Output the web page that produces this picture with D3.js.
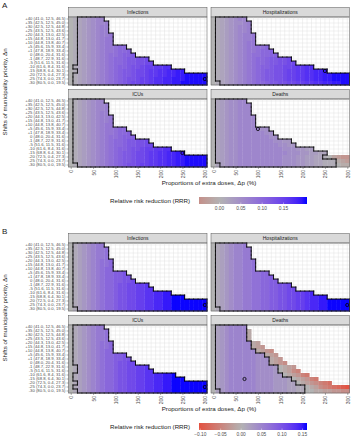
<!DOCTYPE html>
<html>
<head>
<meta charset="utf-8">
<script src="https://cdn.jsdelivr.net/npm/d3@7"></script>
<style>
  body { margin: 0; background: #fff; }
  text { font-family: 'Liberation Sans', Arial, sans-serif; }
</style>
</head>
<body>
<div id="chart"></div>
<script>
// rows: shift of municipality priority (top to bottom)
const shiftKeys = ['+40', '+35', '+30', '+25', '+20', '+15', '+10', '+5', '+1', '0', '-1', '-5', '-10', '-15', '-20', '-25', '-30']
const shiftLabels = [
  '+40 (41.0, 12.5, 46.5)', '+35 (42.5, 12.5, 45.0)', '+30 (42.5, 12.5, 44.8)', '+25 (43.5, 12.5, 43.6)',
  '+20 (44.3, 13.0, 42.5)', '+15 (44.8, 13.0, 41.7)', '+10 (44.8, 13.8, 40.7)', '+5 (45.6, 15.9, 33.4)',
  '+1 (47.8, 18.9, 33.4)', '0 (48.0, 20.4, 31.6)', '-1 (48.7, 22.9, 31.6)', '-5 (51.6, 11.5, 31.6)',
  '-10 (61.6, 8.4, 31.6)', '-15 (68.8, 6.4, 30.1)', '-20 (72.5, 0.4, 27.3)', '-25 (74.3, 0.0, 23.7)',
  '-30 (80.5, 0.0, 19.5)'
]
// columns: proportion of extra doses (%)
const doses = [0, 10, 20, 30, 40, 50, 60, 70, 80, 90, 100, 110, 120, 130, 140, 150, 160, 170, 180, 190, 200, 210, 220, 230, 240, 250, 260, 270, 280, 290, 300]
const doseTicks = [0, 50, 100, 150, 200, 250, 300]
const panelNames = ['Infections', 'Hospitalizations', 'ICUs', 'Deaths']

// one char per cell: '0' = -0.10 ... 'a' = 0.00 ... 'u' = 0.20, missing cells are empty
const code = '0123456789abcdefghijklmnopqrstu'

const infA = [
  'abcdefgg', 'abcdefggh', 'abcdefghh', 'abcdefghh', 'abcdefghhi', 'abcdefghii', 'abcdefghii',
  'abcdefghiijkk', 'abcdefghiijkkl', 'abcdefghijjkllm', 'abcdefghijkklmmnno', 'abcdefghijkklmmnnoo',
  'abcdefghijkllmnnoppqqrr', 'abcdefghijklmmnoopqqrrsstt',
  'abcdefghijklmmnoopqqrrssttuuuuu', 'abcdefghijklmnnoppqrrsstttuuuuu', 'abcdefghijklmnooppqrrssttuuuuuu'
]
const hospA = [
  'abcdefgg', 'abcdeffgh', 'abcdefggh', 'abcdefggh', 'abcdefghhi', 'abcdefghhi', 'abcdefghii',
  'abcdefghiijjk', 'abcdefghiijkkl', 'abcdefghijjkkll', 'abcdefghijkklmmnno', 'abcdefghijkklmmnnoo',
  'abcdefghijkllmnnoopqqrr', 'abcdefghijklmmnnoppqqrrsst',
  'abcdefghijklmmnnoppqqrrssttuuuu', 'abcdefghijklmmnnoppqqrrssttuuuu', 'abcdefghijkklmmnnooppqqrrssttuu'
]
const icuA = [
  'abcdefgg', 'abcdefggh', 'abcdefggh', 'abcdefghh', 'abcdefghhi', 'abcdefghhi', 'abcdefghii',
  'abcdefghiijkk', 'abcdefghiijkkl', 'abcdefghijjklll', 'abcdefghijkklmmnno', 'abcdefghijkklmmnnoo',
  'abcdefghijkllmnnoppqqrr', 'abcdefghijklmmnoopqqrrsstt',
  'abcdefghijklmmnoopqqrrssttuuuuu', 'abcdefghijklmmnoopqqrrssttuuuuu', 'abcdefghijklmnnoppqqrrssttuuuuu'
]
const deathA = [
  'acdeffgg', 'acdeffggg', 'acdeffggg', 'acdeffggg', 'acdeffgggg', 'acdeffgggg', 'acdeffgggg',
  'acdeffgggggff', 'acdeffggggggff', 'acdeffgggggggff', 'acdeffggggggggffee', 'acdeffgggggggggffee',
  'acdeffggggggggggfffeedd', 'acdeffgggggggggggfffeeddcc',
  'acdeffggggggggggfffeeddccba8766', 'acdeffggggggggggfffeeddccbbb987', 'acdeffggggggggggfffeeddccbbba99'
]
const infB = [
  'abcdefgg', 'abcdefggh', 'abcdefggh', 'abcdefggh', 'abcdefghhi', 'abcdefghhi', 'abcdefghii',
  'abcdefghiijjk', 'abcdefghiijjkk', 'abcdefghiijjkkl', 'abcdefghiijkkllmmn', 'abcdefghiijkkllmmnn',
  'abcdefghiijkkllmmnnoopp', 'abcdefghiijkkllmmnnooppqqq',
  'abcdefghiijkkllmmnnooppqqqqqqqq', 'abcdefghiijkkllmmnnooppqqqqqqqq', 'abcdefghiijkkllmmnnooppqqqqqqqq'
]
const hospB = [
  'abcdeffg', 'abcdeffgg', 'abcdeffgg', 'abcdeffgg', 'abcdeffggh', 'abcdeffggh', 'abcdeffggh',
  'abcdeffgghhii', 'abcdeffgghhiij', 'abcdeffgghhiijj', 'abcdeffgghhiijjkkl', 'abcdeffgghhiijjkkll',
  'abcdeffgghhiijjkkllmmno', 'abcdeffgghhiijjkkllmmnoopp',
  'abcdeffgghhiijjkkllmmnooppqqqqq', 'abcdeffgghhiijjkkllmmnooppqqqqq', 'abcdeffgghhiijjkkllmmnooppqqqqq'
]
const icuB = [
  'abcdefgg', 'abcdefggh', 'abcdefggh', 'abcdefggh', 'abcdefghhi', 'abcdefghhi', 'abcdefghii',
  'abcdefghiijjk', 'abcdefghiijjkk', 'abcdefghiijkkll', 'abcdefghiijkkllmmn', 'abcdefghiijkkllmmnn',
  'abcdefghiijkkllmmnnooppq', 'abcdefghiijkkllmmnnooppqqq',
  'abcdefghiijkkllmmnnooppqqqqqqqq', 'abcdefghiijkkllmmnnooppqqqqqqqq', 'abcdefghiijkkllmmnnooppqqqqqqqq'
]
const deathB = [
  'acdeffff', 'acdeffff9', 'acdeffff9', 'acdeffff9', 'acdefffff98', 'acdefffff987', 'acdeffffff9876',
  'acdeffffffee987', 'acdeffffffeee987', 'acdeffffffeee9876', 'acdeffffffeeeeda987', 'acdeffffffeeeeda9865',
  'acdeffffffeeeedda98754', 'acdeffffffeeeedddca98754',
  'acdeffffffeeeedddcca9876543', 'acdeffffffeeeedddccbba986543210', 'acdeffffffeeeedddccbbaa99887766'
]

// black outline: first / last column of the outlined region in each row
const infA_lo = [2, 2, 2, 2, 2, 2, 2, 2, 2, 2, 2, 2, 1, 2, 1, 1, 1]
const hospA_lo = [1, 1, 1, 1, 1, 1, 1, 1, 1, 1, 1, 1, 1, 1, 1, 1, 2]
const icuA_lo = [1, 1, 1, 1, 1, 1, 1, 1, 1, 1, 1, 1, 1, 1, 1, 1, 2]
const deathA_lo = [1, 1, 1, 1, 1, 1, 1, 1, 1, 1, 1, 1, 1, 1, 1, 1, 2]
const deathA_hi = [7, 8, 8, 8, 9, 9, 9, 12, 13, 14, 17, 18, 22, 25, 24, 27, 27]
const infB_lo = [1, 1, 1, 1, 1, 1, 1, 1, 1, 1, 1, 1, 1, 1, 1, 1, 2]
const hospB_lo = [1, 1, 1, 1, 1, 1, 1, 1, 1, 1, 1, 1, 1, 1, 1, 1, 2]
const icuB_lo = [1, 1, 1, 1, 1, 1, 1, 1, 1, 1, 2, 2, 1, 1, 2, 1, 2]
const deathB_lo = [1, 1, 1, 1, 1, 1, 1, 1, 1, 1, 1, 1, 1, 1, 1, 1, 2]
const deathB_hi = [7, 7, 7, 7, 8, 8, 9, 11, 12, 12, 14, 14, 15, 17, 18, 20, 20]

// optimum markers [dose, shift]
const bestA = [[300, '-25'], [250, '-15'], [250, '-15'], [100, '+5']]
const bestB = [[300, '-25'], [300, '-25'], [300, '-25'], [70, '-15']]

const extentA = [-0.048, 0.205]
const extentB = [-0.103, 0.161]
const legendTicksA = [0, 0.05, 0.1, 0.15]
const legendTicksB = [-0.1, -0.05, 0, 0.05, 0.1, 0.15]

const lowCol = '#ff1a00', midCol = '#b3b3b3', highCol = '#0000ff'

const width = 351, height = 440
const colX = [68.5, 211]
const rowY = [17, 99]
const pw = 138.5, ph = 68, stripH = 9.5

const svg = d3.select('#chart').append('svg')
  .attr('width', width)
  .attr('height', height)

const x = d3.scaleLinear().domain([-5, 305]).range([0, pw])
const y = d3.scaleBand().domain(shiftKeys).range([0, ph])
const cw = x(10) - x(0)
const bh = y.bandwidth()

function decode(rows) {
  return rows.flatMap((s, r) => s.split('').map((ch, c) => ({ r, c, v: (code.indexOf(ch) - 10) / 100 })))
}

function outline(lo, hi) {
  const inside = (r, c) => r >= 0 && r < lo.length && c >= lo[r] && c <= hi[r]
  const segs = []
  lo.forEach((l, r) => {
    const y0 = y(shiftKeys[r]), y1 = y0 + bh
    for (let c = l; c <= hi[r]; c++) {
      const x0 = x(doses[c] - 5), x1 = x(doses[c] + 5)
      if (!inside(r - 1, c)) segs.push([x0, y0, x1, y0])
      if (!inside(r + 1, c)) segs.push([x0, y1, x1, y1])
      if (!inside(r, c - 1)) segs.push([x0, y0, x0, y1])
      if (!inside(r, c + 1)) segs.push([x1, y0, x1, y1])
    }
  })
  return segs
}

function drawFigure(top, letter, panels, extent, legendTicks) {
  const m = d3.max(extent, Math.abs)
  const fill = v => v >= 0 ? d3.interpolateHcl(midCol, highCol)(v / m) : d3.interpolateRgb(midCol, lowCol)(-v / m)

  svg.append('text')
    .attr('x', 2)
    .attr('y', top + 8)
    .attr('font-size', 8)
    .attr('fill', '#1a1a1a')
    .text(letter)

  panels.forEach((p, i) => {
    const px = colX[i % 2], py = top + rowY[Math.floor(i / 2)]
    const g = svg.append('g').attr('transform', `translate(${px},${py})`)

    // strip
    g.append('rect')
      .attr('x', 0).attr('y', -stripH)
      .attr('width', pw).attr('height', stripH)
      .attr('fill', '#d9d9d9').attr('stroke', '#555').attr('stroke-width', 0.5)
    g.append('text')
      .attr('x', pw / 2).attr('y', -stripH / 2)
      .attr('text-anchor', 'middle').attr('dominant-baseline', 'central')
      .attr('font-size', 5).attr('fill', '#1a1a1a')
      .text(p.name)

    // grid
    g.selectAll('.vg').data(doses).join('line')
      .attr('x1', d => x(d)).attr('x2', d => x(d))
      .attr('y1', 0).attr('y2', ph)
      .attr('stroke', '#e3e3e3').attr('stroke-width', 0.5)
    g.selectAll('.hg').data(shiftKeys).join('line')
      .attr('x1', 0).attr('x2', pw)
      .attr('y1', d => y(d) + bh / 2).attr('y2', d => y(d) + bh / 2)
      .attr('stroke', '#e3e3e3').attr('stroke-width', 0.5)

    // tiles
    g.selectAll('.cell').data(decode(p.rrr)).join('rect')
      .attr('x', d => x(doses[d.c] - 5))
      .attr('y', d => y(shiftKeys[d.r]))
      .attr('width', cw + 0.3)
      .attr('height', bh + 0.3)
      .attr('fill', d => fill(d.v))

    // outline of the region
    g.selectAll('.seg').data(outline(p.lo, p.hi)).join('line')
      .attr('x1', d => d[0]).attr('y1', d => d[1])
      .attr('x2', d => d[2]).attr('y2', d => d[3])
      .attr('stroke', '#000').attr('stroke-width', 0.9)
      .attr('stroke-linecap', 'square')

    g.append('circle')
      .attr('cx', x(p.best[0]))
      .attr('cy', y(p.best[1]) + bh / 2)
      .attr('r', 1.6)
      .attr('fill', 'none').attr('stroke', '#000').attr('stroke-width', 0.8)

    g.append('rect')
      .attr('width', pw).attr('height', ph)
      .attr('fill', 'none').attr('stroke', '#555').attr('stroke-width', 0.5)

    if (i % 2 === 0) {
      const ya = g.append('g')
        .call(d3.axisLeft(y).tickSize(2).tickPadding(1).tickFormat((d, k) => shiftLabels[k]))
      ya.select('.domain').remove()
      ya.selectAll('line').attr('stroke', '#333').attr('stroke-width', 0.4)
      ya.selectAll('text').attr('font-size', 4.2).attr('fill', '#4d4d4d')
        .attr('font-family', "'Liberation Sans', Arial, sans-serif")
    }
    if (i >= 2) {
      const xa = g.append('g')
        .attr('transform', `translate(0,${ph})`)
        .call(d3.axisBottom(x).tickValues(doseTicks).tickSize(2))
      xa.select('.domain').remove()
      xa.selectAll('line').attr('stroke', '#333').attr('stroke-width', 0.4)
      xa.selectAll('text')
        .attr('font-size', 5).attr('fill', '#4d4d4d')
        .attr('font-family', "'Liberation Sans', Arial, sans-serif")
        .attr('text-anchor', 'end')
        .attr('dominant-baseline', 'central')
        .attr('transform', 'rotate(-90)')
        .attr('x', -3).attr('y', 0).attr('dy', null)
    }
  })

  // axis titles
  svg.append('text')
    .attr('transform', `translate(7,${top + 92}) rotate(-90)`)
    .attr('text-anchor', 'middle')
    .attr('font-size', 6.2).attr('fill', '#1a1a1a')
    .text('Shifts of municipality priority, Δn')
  svg.append('text')
    .attr('x', 209).attr('y', top + 185)
    .attr('text-anchor', 'middle')
    .attr('font-size', 6.2).attr('fill', '#1a1a1a')
    .text('Proportions of extra doses, Δp (%)')

  // colour legend
  const lx = d3.scaleLinear().domain(extent).range([199, 307])
  const gradId = 'grad' + letter
  const grad = svg.append('defs').append('linearGradient').attr('id', gradId)
  d3.range(0, 1.0001, 0.05).forEach(t => {
    grad.append('stop')
      .attr('offset', t)
      .attr('stop-color', fill(extent[0] + t * (extent[1] - extent[0])))
  })
  const ly = top + 197
  svg.append('text')
    .attr('x', 110).attr('y', ly + 3.5)
    .attr('dominant-baseline', 'central')
    .attr('font-size', 6.2).attr('fill', '#1a1a1a')
    .text('Relative risk reduction (RRR)')
  svg.append('rect')
    .attr('x', lx.range()[0]).attr('y', ly)
    .attr('width', lx.range()[1] - lx.range()[0]).attr('height', 7)
    .attr('fill', `url(#${gradId})`)
  svg.selectAll('.lt' + letter).data(legendTicks).join('line')
    .attr('x1', d => lx(d)).attr('x2', d => lx(d))
    .attr('y1', ly + 5.5).attr('y2', ly + 7)
    .attr('stroke', '#fff').attr('stroke-width', 0.4)
  svg.selectAll('.ll' + letter).data(legendTicks).join('text')
    .attr('x', d => lx(d)).attr('y', ly + 12.5)
    .attr('text-anchor', 'middle')
    .attr('font-size', 4.8).attr('fill', '#4d4d4d')
    .text(d => d3.format('.2f')(d))
}

const rrrA = [infA, hospA, icuA, deathA]
const rrrB = [infB, hospB, icuB, deathB]
const loA = [infA_lo, hospA_lo, icuA_lo, deathA_lo]
const loB = [infB_lo, hospB_lo, icuB_lo, deathB_lo]

const panelsA = panelNames.map((name, i) => ({
  name,
  rrr: rrrA[i],
  lo: loA[i],
  hi: i === 3 ? deathA_hi : rrrA[i].map(s => s.length - 1),
  best: bestA[i]
}))
const panelsB = panelNames.map((name, i) => ({
  name,
  rrr: rrrB[i],
  lo: loB[i],
  hi: i === 3 ? deathB_hi : rrrB[i].map(s => s.length - 1),
  best: bestB[i]
}))

drawFigure(0, 'A', panelsA, extentA, legendTicksA)
drawFigure(226, 'B', panelsB, extentB, legendTicksB)
</script>
</body>
</html>
